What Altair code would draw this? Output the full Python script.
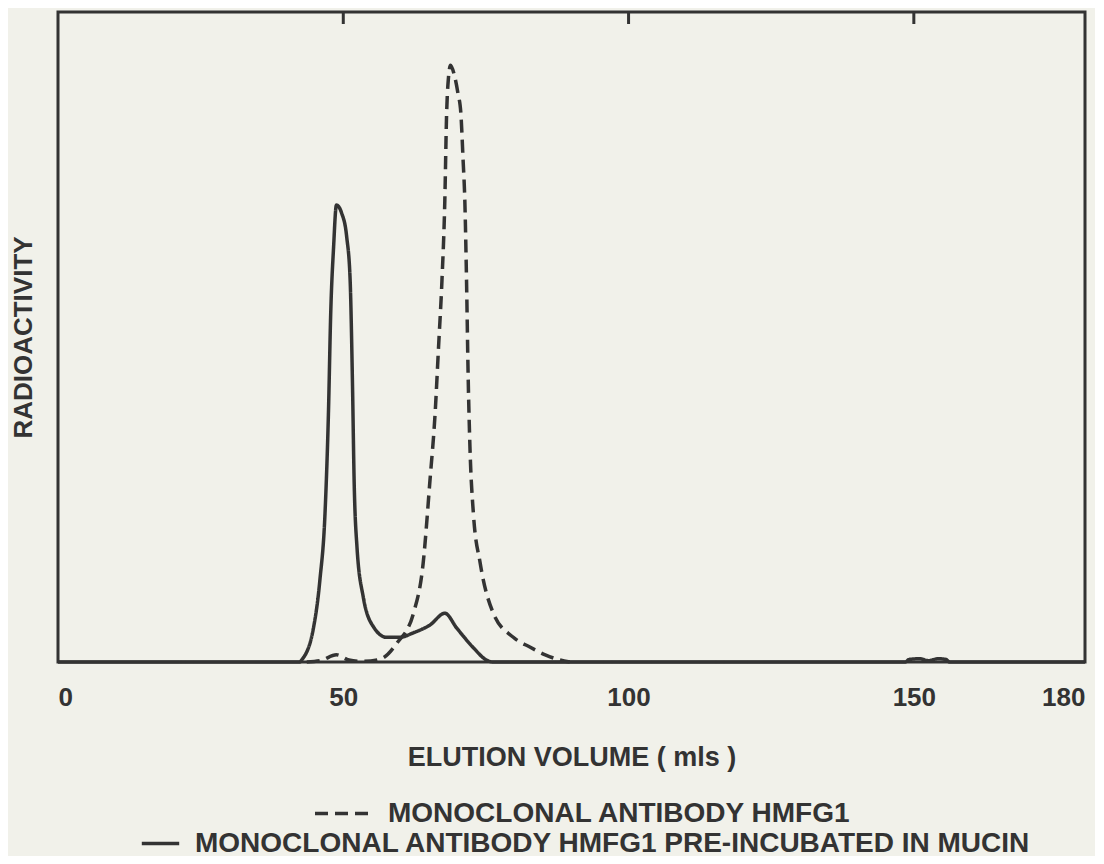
import altair as alt
import pandas as pd

# ---- data ----
dashed_name = "MONOCLONAL ANTIBODY HMFG1"
solid_name = "MONOCLONAL ANTIBODY HMFG1 PRE-INCUBATED IN MUCIN"

solid_x = [0, 42.4, 42.7, 44.7, 45.9, 46.8, 47.4, 47.8, 48.3, 48.8, 49.7, 50.6, 51.2,
           51.6, 51.9, 52.4, 53.5, 55.3, 57.6, 59.9, 62.3, 65.2, 67.8, 69.9, 72.8,
           75.1, 76.2, 148.5, 149.2, 151.0, 152.6, 154.2, 155.6, 156.3, 180]
solid_y = [0, 0, 0.3, 4.9, 12.6, 22.9, 38.3, 53.7, 63.8, 70.3, 69.1, 65.4, 58.8,
           43.4, 28.0, 17.7, 10.0, 5.4, 3.8, 3.8, 4.5, 5.7, 7.5, 5.2, 2.2,
           0.3, 0, 0, 0.4, 0.5, 0.2, 0.5, 0.4, 0, 0]

dashed_x = [43.6, 46.0, 48.8, 51.0, 53.5, 56.4, 59.4, 62.3, 64.0, 65.2, 66.1, 66.7,
            67.3, 67.8, 68.1, 68.4, 68.8, 69.4, 70.1, 70.6, 71.0, 71.3, 71.6, 71.9,
            72.2, 72.8, 74.0, 76.3, 79.8, 82.7, 85.4, 88.0, 89.7]
dashed_y = [0, 0.2, 1.1, 0.3, 0.1, 0.4, 2.9, 7.5, 15.2, 28.0, 38.3, 48.5,
            58.8, 71.1, 84.0, 89.5, 91.8, 90.5, 87.5, 84.5, 77.2, 71.1, 58.8, 43.4,
            33.1, 22.9, 15.2, 7.5, 3.8, 2.3, 1.1, 0.3, 0]

x_label_values = [0, 50, 100, 150, 180]
top_tick_values = [50, 100, 150]

# ---- styling ----
INK = "#333333"
BG = "#f1f1ea"
FONT = "Liberation Sans"

solid_df = pd.DataFrame({"v": solid_x, "r": solid_y, "series": solid_name})
dashed_df = pd.DataFrame({"v": dashed_x, "r": dashed_y, "series": dashed_name})
ticks_df = pd.DataFrame({"v": top_tick_values})

x_axis = alt.Axis(
    values=x_label_values, labelFlush=True, ticks=False, tickSize=0, domain=False,
    grid=False, labelFont=FONT, labelFontWeight="bold", labelFontSize=26,
    labelColor=INK, labelPadding=22, title="ELUTION VOLUME ( mls )",
    titleFont=FONT, titleFontWeight="bold", titleFontSize=27, titleColor=INK,
    titlePadding=34,
)
y_axis = alt.Axis(
    labels=False, ticks=False, tickSize=0, domain=False, grid=False,
    title="RADIOACTIVITY", titleFont=FONT, titleFontWeight="bold",
    titleFontSize=26, titleColor=INK, titlePadding=22,
)

x_scale = alt.Scale(domain=[0, 180], nice=False, zero=False)
x_enc = alt.X("v:Q", scale=x_scale, axis=x_axis)
y_enc = alt.Y("r:Q", scale=alt.Scale(domain=[0, 100], nice=False), axis=y_axis)


def legend(x, y, size):
    return alt.Legend(
        orient="none", legendX=x, legendY=y, title=None, symbolType="stroke",
        symbolSize=size, symbolStrokeWidth=3.5, symbolStrokeColor=INK,
        labelFont=FONT, labelFontWeight="bold", labelFontSize=28, labelColor=INK,
        labelOffset=14, labelLimit=0, padding=0,
    )


dashed = alt.Chart(dashed_df).mark_line(
    interpolate="monotone", strokeWidth=3.5, color=INK
).encode(
    x=x_enc, y=y_enc,
    strokeDash=alt.StrokeDash(
        "series:N",
        scale=alt.Scale(domain=[dashed_name], range=[[13, 7]]),
        legend=legend(255, 771, 3249),
    ),
)

solid = alt.Chart(solid_df).mark_line(
    interpolate="monotone", strokeWidth=3.5, color=INK
).encode(
    x=x_enc, y=y_enc,
    strokeDash=alt.StrokeDash(
        "series:N",
        scale=alt.Scale(domain=[solid_name], range=[[1, 0]]),
        legend=legend(82, 811, 1400),
    ),
)

top_ticks = alt.Chart(ticks_df).mark_rule(strokeWidth=3, color=INK).encode(
    x=x_enc, y=alt.value(0), y2=alt.value(12)
)

chart = alt.layer(dashed, solid, top_ticks).resolve_scale(
    strokeDash="independent"
).properties(
    width=1027, height=650,
    padding={"left": 50, "top": 4, "right": 10, "bottom": 194},
    autosize=alt.AutoSizeParams(type="none"),
    background=BG,
).configure_view(
    stroke=INK, strokeWidth=3
)

chart.save("out.html", embed_options={"renderer": "svg", "actions": False})
